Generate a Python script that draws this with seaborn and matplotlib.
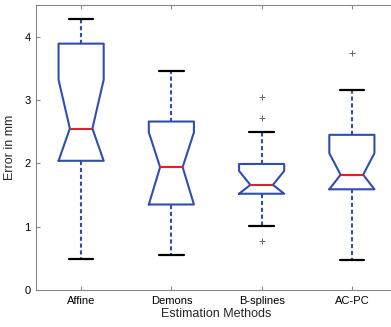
import numpy as np
import pandas as pd
import matplotlib
matplotlib.use('Agg')
import matplotlib.pyplot as plt
import seaborn as sns

# values (mm)
methods = ['Affine', 'Demons', 'B-splines', 'AC-PC']
whislo = [0.49, 0.56, 1.01, 0.47]
q1 = [2.04, 1.35, 1.52, 1.59]
med = [2.55, 1.94, 1.66, 1.82]
q3 = [3.89, 2.66, 1.99, 2.45]
whishi = [4.28, 3.46, 2.50, 3.16]
notch_lo = [2.04, 1.35, 1.52, 1.59]
notch_hi = [3.32, 2.49, 1.88, 2.16]
outlier_method = ['B-splines', 'B-splines', 'B-splines', 'AC-PC']
outlier_value = [0.78, 2.71, 3.04, 3.75]

sns.set_style('white')
plt.rcParams['font.family'] = ['Liberation Sans', 'DejaVu Sans']

blue = '#2f4fb0'
red = '#e3202a'

fig = plt.figure(figsize=(3.91, 3.27), dpi=100)
ax = fig.add_axes([36/391, 1-290/327, 361/391, 285/327])

stats = []
for i, m in enumerate(methods):
    stats.append({'label': m, 'whislo': whislo[i], 'q1': q1[i], 'med': med[i],
                  'q3': q3[i], 'whishi': whishi[i], 'cilo': notch_lo[i],
                  'cihi': notch_hi[i], 'fliers': []})

ax.bxp(stats, positions=range(1, len(methods)+1), widths=0.5, capwidths=0.27,
       shownotches=True, showfliers=False,
       boxprops=dict(color=blue, lw=1.5),
       whiskerprops=dict(color=blue, lw=1.5, linestyle=(0, (2, 1.3))),
       capprops=dict(color='black', lw=1.6),
       medianprops=dict(color=red, lw=1.5))

out = pd.DataFrame({'pos': [methods.index(m)+1 for m in outlier_method], 'val': outlier_value})
sns.scatterplot(data=out, x='pos', y='val', marker='+', color='#666666', s=20,
                linewidth=0.7, ax=ax, legend=False)

ax.set_xlim(0.5, 4.5)
ax.set_ylim(0, 4.5)
ax.set_xticks(range(1, len(methods)+1))
ax.set_xticklabels(methods)
ax.set_yticks([0, 1, 2, 3, 4])
ax.tick_params(direction='in', length=3, width=0.8, color='#888888', labelsize=8,
               labelcolor='black', top=True, left=True, bottom=True, pad=4)
for s in ax.spines.values():
    s.set_color('#888888')
    s.set_linewidth(0.8)
ax.spines['right'].set_visible(False)
ax.set_xlabel('Estimation Methods', fontsize=9, labelpad=2)
ax.set_ylabel('Error in mm', fontsize=9, labelpad=6)

fig.savefig('out.png', dpi=100)
